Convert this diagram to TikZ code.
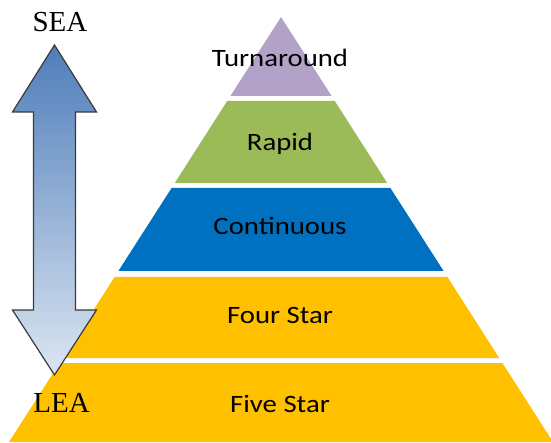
\documentclass[tikz,border=0pt]{standalone}
\usepackage{fontspec}
\newfontfamily\labfont[FakeStretch=1.15]{Carlito}
\newfontfamily\serfont{Liberation Serif}
\definecolor{tpurple}{HTML}{B3A2C7}
\definecolor{tgreen}{HTML}{9BBB59}
\definecolor{tblue}{HTML}{0070C0}
\definecolor{tgold}{HTML}{FFC000}
\definecolor{arrtop}{HTML}{4F7DBA}
\definecolor{arrbot}{HTML}{DCE6F2}
\definecolor{arrline}{HTML}{3A3A3A}
\tikzset{
  tierlabel/.style={anchor=base, inner sep=0pt, font=\labfont\fontsize{25}{30}\selectfont, text=black},
  sidelabel/.style={anchor=base, inner sep=0pt, font=\serfont\fontsize{29}{34}\selectfont, text=black},
}
\begin{document}
\begin{tikzpicture}[x=1pt,y=1pt]
\useasboundingbox (0,0) rectangle (551,442);
\begin{scope}
\clip (0,0) rectangle (551,442);
% pyramid tiers
\fill[tpurple] (281,425) -- (331.6,346) -- (230.4,346) -- cycle;
\fill[tgreen] (227.2,341) -- (334.8,341) -- (387.2,259) -- (174.8,259) -- cycle;
\fill[tblue] (171.6,254) -- (390.4,254) -- (443.6,171) -- (118.4,171) -- cycle;
\fill[tgold] (114.6,165) -- (447.4,165) -- (499.2,84) -- (62.8,84) -- cycle;
\fill[tgold] (59.6,79) -- (502.4,79) -- (553,0) -- (9,0) -- cycle;
\end{scope}
% double arrow
\path[draw=arrline, line width=1.2pt, line join=miter, top color=arrtop, bottom color=arrbot]
  (54.5,397) -- (96.5,330) -- (75.5,330) -- (75.5,132) -- (96.5,132)
  -- (54.5,67) -- (12.5,132) -- (33.5,132) -- (33.5,330) -- (12.5,330) -- cycle;
% labels
\node[tierlabel] (turn) at (280,375) {Turnaround};
\node[tierlabel] (rapid) at (280,291) {Rapid};
\node[tierlabel] (cont) at (280,207) {Continuous};
\node[tierlabel] (four) at (280,119) {Four Star};
\node[tierlabel] (five) at (280,30) {Five Star};
\node[sidelabel] (sea) at (60,410) {SEA};
\node[sidelabel] (lea) at (61.5,30) {LEA};
\end{tikzpicture}
\end{document}
